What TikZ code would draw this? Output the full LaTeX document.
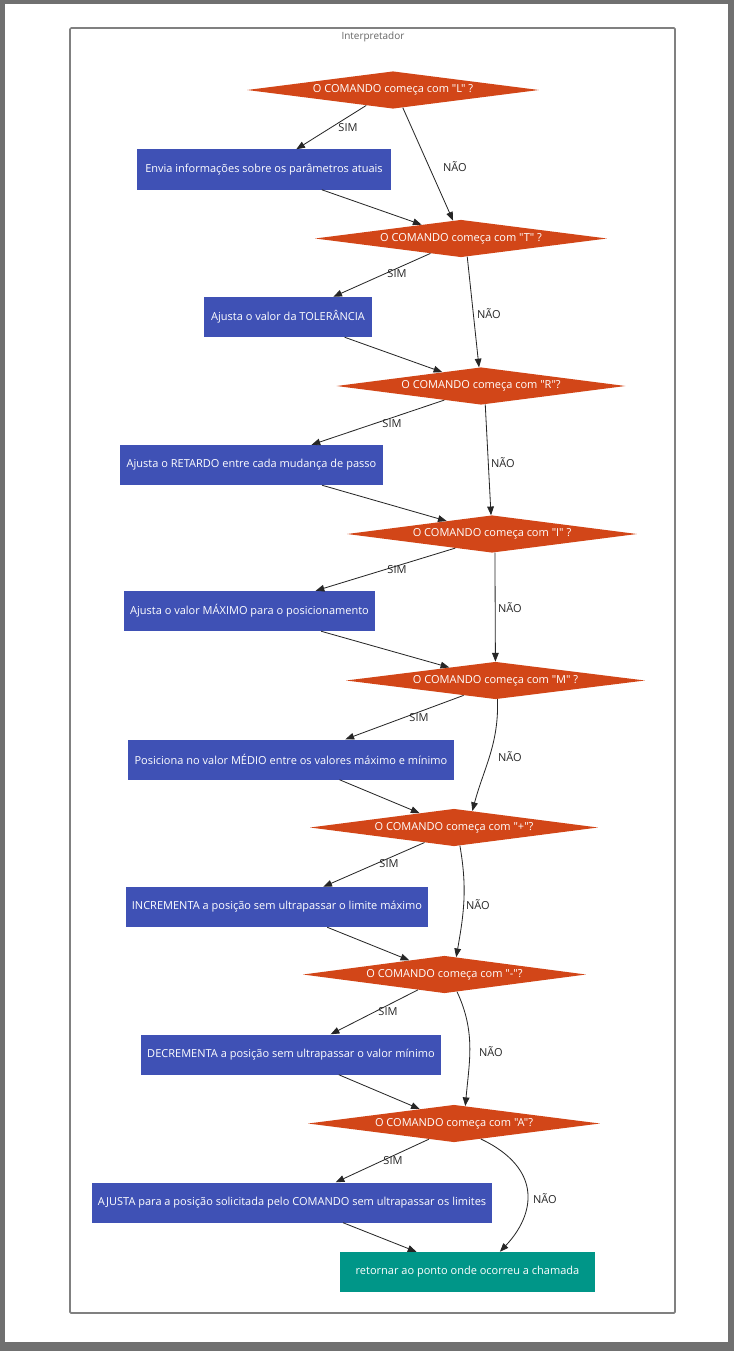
\documentclass[tikz,border=0pt]{standalone}
\usepackage{fontspec}
\newfontfamily\diagfont{Open Sans}
\usetikzlibrary{arrows.meta,shapes.geometric}

\definecolor{decision}{RGB}{210,70,24}
\definecolor{action}{RGB}{63,81,181}
\definecolor{finish}{RGB}{0,150,136}
\definecolor{screen}{RGB}{112,112,112}
\definecolor{cluster}{RGB}{128,128,128}

\begin{document}
\begin{tikzpicture}[
    x=0.03cm, y=-0.03cm,
    font=\diagfont\fontsize{9.4}{11}\selectfont,
    question/.style={diamond, aspect=8, fill=decision, text=white, inner sep=0pt, minimum width=8.76cm, minimum height=1.12cm},
    task/.style={rectangle, fill=action, text=white, inner sep=0pt, minimum height=1.2cm},
    done/.style={task, fill=finish},
    answer/.style={text=black!85, inner sep=1pt},
    arrow/.style={-{Triangle[length=2.6mm,width=2mm]}, line width=0.7pt, draw=black!85}
]
    \useasboundingbox (0,0) rectangle (734,1351);
    % screenshot frame and cluster
    \fill[screen] (0,0) rectangle (734,1351);
    \fill[white] (5,4) rectangle (728,1342);
    \draw[cluster, line width=1.4pt, rounded corners=1pt] (70,28) rectangle (675,1313);
    \node[text=black!60, font=\diagfont\fontsize{8.5}{10}\selectfont] (title) at (373,37) {Interpretador};

    % decisions and actions
    \node[question] (qL) at (393,90) {O COMANDO começa com "L" ?};
    \node[task, minimum width=7.62cm] (envia) at (264,169.5) {Envia informações sobre os parâmetros atuais};
    \node[question] (qT) at (461,238.5) {O COMANDO começa com "T" ?};
    \node[task, minimum width=5.04cm] (tol) at (288,317) {Ajusta o valor da TOLERÂNCIA};
    \node[question, minimum width=8.67cm] (qR) at (481,386) {O COMANDO começa com "R"?};
    \node[task, minimum width=7.89cm] (retardo) at (251.5,465) {Ajusta o RETARDO entre cada mudança de passo};
    \node[question, minimum width=8.7cm] (qI) at (492,534) {O COMANDO começa com "I" ?};
    \node[task, minimum width=7.53cm] (maximo) at (249.5,611) {Ajusta o valor MÁXIMO para o posicionamento};
    \node[question, minimum width=8.97cm] (qM) at (495.5,680.5) {O COMANDO começa com "M" ?};
    \node[task, minimum width=9.78cm] (medio) at (291,759.5) {Posiciona no valor MÉDIO entre os valores máximo e mínimo};
    \node[question, minimum width=8.64cm] (qInc) at (454,827.5) {O COMANDO começa com "+"?};
    \node[task, minimum width=9.06cm] (incr) at (277,907) {INCREMENTA a posição sem ultrapassar o limite máximo};
    \node[question, minimum width=8.49cm] (qDec) at (444.5,974.5) {O COMANDO começa com "-"?};
    \node[task, minimum width=9cm] (decr) at (291,1054.5) {DECREMENTA a posição sem ultrapassar o valor mínimo};
    \node[question] (qA) at (454,1123.5) {O COMANDO começa com "A"?};
    \node[task, minimum width=12cm] (ajusta) at (292,1202.5) {AJUSTA para a posição solicitada pelo COMANDO sem ultrapassar os limites};
    \node[done, minimum width=7.65cm] (retorno) at (467.5,1272) {retornar ao ponto onde ocorreu a chamada};

    % answers
    \node[answer] (sim1) at (348,128) {SIM};
    \node[answer] (nao1) at (455,167) {NÃO};
    \node[answer] (sim2) at (397,274) {SIM};
    \node[answer] (nao2) at (489,314) {NÃO};
    \node[answer] (sim3) at (392,424) {SIM};
    \node[answer] (nao3) at (503,463) {NÃO};
    \node[answer] (sim4) at (397,570) {SIM};
    \node[answer] (nao4) at (510,608) {NÃO};
    \node[answer] (sim5) at (419,718) {SIM};
    \node[answer] (nao5) at (510,757) {NÃO};
    \node[answer] (sim6) at (389,864) {SIM};
    \node[answer] (nao6) at (478,905) {NÃO};
    \node[answer] (sim7) at (388,1012) {SIM};
    \node[answer] (nao7) at (491,1052) {NÃO};
    \node[answer] (sim8) at (393,1161) {SIM};
    \node[answer] (nao8) at (545,1199) {NÃO};

    % connectors
    \draw[arrow] (qL.210) -- (envia);
    \draw[arrow] (qL.299) -- (qT);
    \draw[arrow] (envia) -- (qT);
    \draw[arrow] (qT.206) -- (tol);
    \draw[arrow] (qT.289) -- (qR);
    \draw[arrow] (tol) -- (qR);
    \draw[arrow] (qR.201) -- (retardo);
    \draw[arrow] (qR.283) -- (qI);
    \draw[arrow] (retardo) -- (qI);
    \draw[arrow] (qI.201) -- (maximo);
    \draw[arrow] (qI.279) -- (qM);
    \draw[arrow] (maximo) -- (qM);
    \draw[arrow] (qM.205) -- (medio);
    \draw[arrow] (qM.276) to[out=-88, in=75] (qInc.42);
    \draw[arrow] (medio) -- (qInc);
    \draw[arrow] (qInc.207) -- (incr);
    \draw[arrow] (qInc.288) to[out=-80, in=80] (qDec.56);
    \draw[arrow] (incr) -- (qDec);
    \draw[arrow] (qDec.210) -- (decr);
    \draw[arrow] (qDec.306) to[out=-65, in=85] (qA.57);
    \draw[arrow] (decr) -- (qA);
    \draw[arrow] (qA.212) -- (ajusta);
    \draw[arrow] (qA.330) .. controls +(63,30) and +(35,-37) .. (retorno.32);
    \draw[arrow] (ajusta) -- (retorno);
\end{tikzpicture}
\end{document}
